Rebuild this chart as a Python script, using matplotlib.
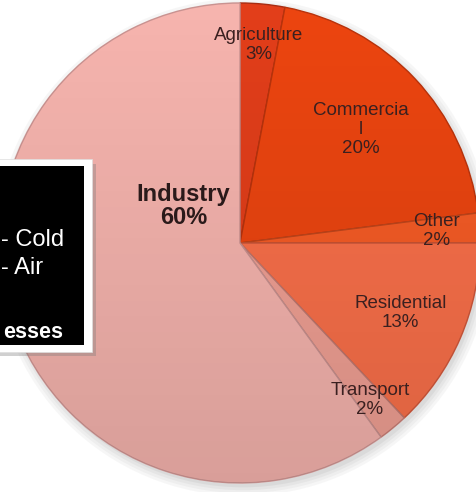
import numpy as np
import matplotlib
matplotlib.use('Agg')
import matplotlib.pyplot as plt
from matplotlib.patches import Circle, Rectangle

plt.rcParams['font.family'] = ['Liberation Sans', 'DejaVu Sans']

# data (clockwise from 12 o'clock)
sectors = ['Agriculture', 'Commercia\nl', 'Other', 'Residential', 'Transport', 'Industry']
shares = [3, 20, 2, 13, 2, 60]
colors = ['#e23e1a', '#ec4510', '#f65c26', '#fa704a', '#f0a094', '#f6b4ae']
edges = ['#a82c12', '#b8330c', '#c0461c', '#c8553a', '#c07a72', '#c99290']

# label placement: radial distance per wedge (fraction of radius)
label_r = [0.83, 0.69, 0.82, 0.73, 0.85, 0.28]
# visible part of the callout text (the box runs off the left edge)
box_lines = ['- Cold', '- Air', 'esses']

fig = plt.figure(figsize=(4.77, 4.92), dpi=100)
ax = fig.add_axes([0, 0, 1, 1])

# soft shadow under the pie
for k, a in enumerate([0.05, 0.05, 0.06, 0.08]):
    ax.add_patch(Circle((0.012, -0.018), 1.0 + 0.012 * (3 - k), color='#606060',
                        alpha=a, lw=0, zorder=0))

wedges, _ = ax.pie(shares, startangle=90, counterclock=False, colors=colors,
                   radius=1.0, center=(0, 0), frame=True,
                   wedgeprops=dict(linewidth=1.0, zorder=2))
for w, ec in zip(wedges, edges):
    w.set_edgecolor(ec)

# smooth top-light / bottom-dark shading over the whole pie
grad = np.zeros((256, 2, 4))
grad[..., 3] = np.linspace(0.0, 0.12, 256)[:, None]
img = ax.imshow(grad, extent=(-1, 1, -1, 1), origin='upper', zorder=3,
                interpolation='bilinear', aspect='auto')
img.set_clip_path(Circle((0, 0), 1.0, transform=ax.transData))

ax.set_xlim(-1.0, 0.9875)
ax.set_ylim(-1.0375, 1.0125)
ax.set_aspect('equal')
ax.axis('off')

# wedge labels
for w, name, val, r in zip(wedges, sectors, shares, label_r):
    mid = np.deg2rad((w.theta1 + w.theta2) / 2)
    if name == 'Industry':
        mid = np.deg2rad(147)
        ax.text(r * np.cos(mid), r * np.sin(mid), f'{name}\n{val}%', ha='center',
                va='center', fontsize=17, fontweight='bold', color='#2a1a1a',
                linespacing=1.0, zorder=5)
    else:
        ax.text(r * np.cos(mid), r * np.sin(mid), f'{name}\n{val}%', ha='center',
                va='center', fontsize=13.5, color='#3a2020', linespacing=1.15,
                zorder=5)

# black callout box on the left, cut by the figure edge
ax.add_patch(Rectangle((-1.1, -0.47), 0.5, 0.8, color='#7a7a7a', alpha=0.35,
                       lw=0, zorder=6))
ax.add_patch(Rectangle((-1.1, -0.454), 0.483, 0.804, facecolor='white',
                       edgecolor='#dddddd', lw=0.5, zorder=7))
ax.add_patch(Rectangle((-1.1, -0.425), 0.45, 0.746, facecolor='black', lw=0, zorder=8))
ys = [0.012, -0.104, -0.371]
for line, y in zip(box_lines, ys):
    if line == 'esses':
        ax.text(-0.735, y, line, ha='right', va='center', fontsize=15.5,
                color='white', fontweight='bold', zorder=9)
    else:
        ax.text(-0.995, y, line, ha='left', va='center', fontsize=17,
                color='white', zorder=9)

fig.savefig('out.png', dpi=100)
